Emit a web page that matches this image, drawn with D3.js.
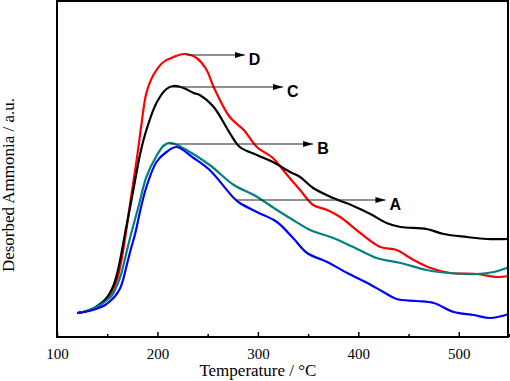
<!DOCTYPE html>
<html><head><meta charset="utf-8">
<script src="https://cdn.jsdelivr.net/npm/d3@7"></script>
<style>body{margin:0;background:#fff}svg{display:block}</style>
</head><body>
<script>
// Temperature (°C) and desorbed ammonia signal (a.u.)
const tempC = [120,128,136,143,148,152,156,160,164,168,173,176,183,189,199,209,216,226,236,242,256,272,282,299,315,332,342,355,375,395,412,428,442,468,485,508,528,550];
const valC  = [24,25.5,28.5,33,37.5,43,51,64,83,105,131,147,184,207,234,248,251,249,244,242,230,204,190,182,175,165,160,149,139,131,123,114,110,108,103,100,98,98];

const tempD = [120,128,136,143,148,152,156,160,164,168,172,176,180,184,189,196,206,216,227,239,249,256,272,286,299,315,325,342,355,369,382,402,422,438,455,472,491,518,538,550];
const valD  = [24,25.5,28,32,36,41,48,58,76,100,128,155,182,212,244,262,275,280,283,279,267,250,220,207,190,179,167,147,132,127,120,104,90,87,77,69,64,63,60,61];

const tempB = [120,128,136,143,150,155,159,163,166,170,174,181,189,199,207,214,229,252,276,296,319,335,352,375,395,418,442,468,491,518,535,550];
const valB  = [24,25.5,28.5,32,37,42,50,60,71,88,104,130,160,181,192,194,187,172,152,142,127,117,107,99,90,79,74,67,64,63,65,70];

const tempA = [120,130,140,148,153,158,163,166,169,173,178,183,189,199,209,219,236,252,276,282,299,319,335,349,369,389,409,425,438,458,475,495,515,531,550];
const valA  = [24,25.5,28.5,32,36,41,49,58,70,86,104,127,150,175,185,190,179,167,139,134,125,115,99,84,75,64,54,45,38,36,34,25,22,19,23];

const seriesNames = ["D","C","B","A"];
const seriesColors = ["#ff0000","#000000","#008080","#0000ff"];
// arrow annotations: start temperature, end temperature, signal level
const arrowStart = [229, 214, 212, 277];
const arrowEnd   = [287, 325, 355, 427];
const arrowLevel = [282, 250, 193, 137];

const xTicks = [100,200,300,400,500];
const xMinor = [150,250,350,450,550];

const W = 510, H = 381;
const m = {l:57, r:1, t:1, b:44};
const svg = d3.select("body").append("svg").attr("width",W).attr("height",H);
const x = d3.scaleLinear().domain([100,550]).range([m.l, W-m.r]);
const y = d3.scaleLinear().domain([0,336]).range([H-m.b, m.t]);

const defs = svg.append("defs");
defs.append("marker").attr("id","ah").attr("viewBox","0 0 10 6").attr("refX",10).attr("refY",3)
  .attr("markerWidth",10).attr("markerHeight",6).attr("markerUnits","userSpaceOnUse").attr("orient","auto")
  .append("path").attr("d","M0,0L10,3L0,6Z").attr("fill","#000");

const data = [
  {t:tempD, v:valD}, {t:tempC, v:valC}, {t:tempB, v:valB}, {t:tempA, v:valA}
];
const line = d3.line().x(d=>x(d[0])).y(d=>y(d[1])).curve(d3.curveCatmullRom.alpha(0.5));
data.forEach((s,i)=>{
  svg.append("path").datum(s.t.map((t,j)=>[t,s.v[j]]))
    .attr("d",line).attr("fill","none").attr("stroke",seriesColors[i]).attr("stroke-width",2.2)
    .attr("stroke-linejoin","round");
});

// arrows and labels
seriesNames.forEach((n,i)=>{
  svg.append("line").attr("x1",x(arrowStart[i])).attr("x2",x(arrowEnd[i]))
    .attr("y1",y(arrowLevel[i])).attr("y2",y(arrowLevel[i]))
    .attr("stroke","#222").attr("stroke-width",1).attr("marker-end","url(#ah)");
  svg.append("text").attr("x",x(arrowEnd[i])+4).attr("y",y(arrowLevel[i])+9.5)
    .attr("font-family","Liberation Sans, Arial, sans-serif").attr("font-weight","bold")
    .attr("font-size",16).attr("fill","#000").text(n);
});

// x axis with inward ticks
const xAxis = svg.append("g").attr("transform",`translate(0,${H-m.b})`);
xAxis.call(d3.axisBottom(x).tickValues(xTicks).tickSize(-5).tickPadding(11).tickFormat(d3.format("d")))
  .call(g=>g.select(".domain").remove())
  .call(g=>g.selectAll(".tick line").attr("stroke","#000").attr("stroke-width",1.5))
  .call(g=>g.selectAll("text").attr("font-family","Liberation Serif, Times New Roman, serif").attr("font-size",15).attr("fill","#000"));
const xAxisMinor = svg.append("g").attr("transform",`translate(0,${H-m.b})`);
xAxisMinor.call(d3.axisBottom(x).tickValues(xMinor).tickSize(-3).tickFormat(""))
  .call(g=>g.select(".domain").remove())
  .call(g=>g.selectAll(".tick line").attr("stroke","#000").attr("stroke-width",1.5));

// frame
svg.append("rect").attr("x",m.l).attr("y",m.t).attr("width",W-m.r-m.l-1).attr("height",H-m.b-m.t)
  .attr("fill","none").attr("stroke","#000").attr("stroke-width",2);

svg.append("text").attr("x",x(300)).attr("y",376).attr("text-anchor","middle")
  .attr("font-family","Liberation Serif, Times New Roman, serif").attr("font-size",17).text("Temperature / °C");
svg.append("text").attr("transform","translate(14,185) rotate(-90)").attr("text-anchor","middle")
  .attr("font-family","Liberation Serif, Times New Roman, serif").attr("font-size",17).text("Desorbed Ammonia / a.u.");
</script>
</body></html>
